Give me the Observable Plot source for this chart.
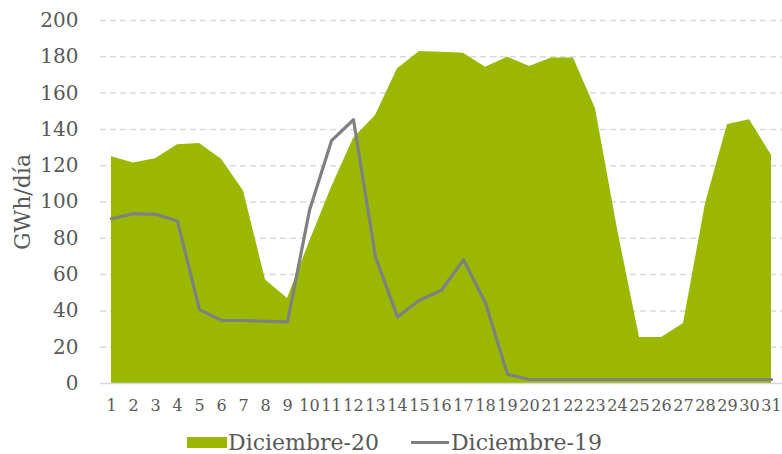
<!DOCTYPE html>
<html>
<head>
<meta charset="utf-8">
<script src="https://cdn.jsdelivr.net/npm/d3@7"></script>
<script src="https://cdn.jsdelivr.net/npm/@observablehq/plot@0.6"></script>
<style>
  body { margin: 0; background: #fff; }
  #chart svg { font-family: "DejaVu Serif", serif; }
  #chart g[aria-label="y-axis tick label"] { font-size: 20px; }
  #chart g[aria-label="x-axis tick label"] { font-size: 16px; }
  .legend { display: flex; align-items: center; height: 34px; margin-top: 5px; padding-left: 187px;
            font-family: "DejaVu Serif", serif; font-size: 22px; color: #595959; }
  .sw-area { width: 40px; height: 11px; background: #9BB700; margin-right: 1px; }
  .sw-line { width: 38px; height: 3px; background: #808080; margin-left: 32px; margin-right: 2px; }
</style>
</head>
<body>
<div id="chart"></div>
<script>
const days = d3.range(1, 32);
const dic20 = [125, 121.5, 123.8, 131.6, 132.3, 123.5, 106, 57, 46.8, 78, 108, 135, 147.7, 173.4, 182.9, 182.5, 182, 174.3, 179.8, 174.6, 179.3, 179.3, 151.4, 85, 25.3, 25.3, 33, 99, 142.7, 145.3, 125.7];
const dic19 = [90.8, 93.6, 93.2, 89.5, 40.7, 34.8, 34.7, 34.3, 34, 95.4, 133.8, 145.3, 69.7, 36.7, 45.9, 51.4, 68.2, 44.4, 5.1, 2.2, 2.2, 2.2, 2.2, 2.2, 2.2, 2.2, 2.2, 2.2, 2.2, 2.2, 2.2];
const yTicks = [0, 20, 40, 60, 80, 100, 120, 140, 160, 180, 200];
const yLabel = "GWh/día";
const seriesNames = ["Diciembre-20", "Diciembre-19"];

const rows = days.map((d, i) => ({day: d, d20: dic20[i], d19: dic19[i]}));

const chart = Plot.plot({
  width: 782,
  height: 420,
  marginLeft: 100,
  marginRight: 0,
  marginTop: 20,
  marginBottom: 37,
  x: {domain: [0.5, 31.5], ticks: days, tickFormat: d => String(d), tickSize: 0, tickPadding: 16, label: null},
  y: {domain: [0, 200], ticks: yTicks, tickSize: 0, tickPadding: 22, label: null},
  style: {color: "#595959", background: "#fff"},
  marks: [
    Plot.ruleY(yTicks.filter(t => t > 0), {stroke: "#D9D9D9", strokeWidth: 1.5, strokeDasharray: "6,4"}),
    Plot.areaY(rows, {x: "day", y: "d20", fill: "#9BB700"}),
    Plot.ruleY([0], {stroke: "#D9D9D9", strokeWidth: 1.5}),
    Plot.lineY(rows, {x: "day", y: "d19", stroke: "#808080", strokeWidth: 3.2}),
    Plot.text([yLabel], {frameAnchor: "left", dx: -78, rotate: -90, textAnchor: "middle", fontSize: 22, fill: "#595959"})
  ]
});
document.getElementById("chart").appendChild(chart);

const leg = document.createElement("div");
leg.className = "legend";
leg.innerHTML = `<span class="sw-area"></span><span>${seriesNames[0]}</span><span class="sw-line"></span><span>${seriesNames[1]}</span>`;
document.getElementById("chart").appendChild(leg);
</script>
</body>
</html>
